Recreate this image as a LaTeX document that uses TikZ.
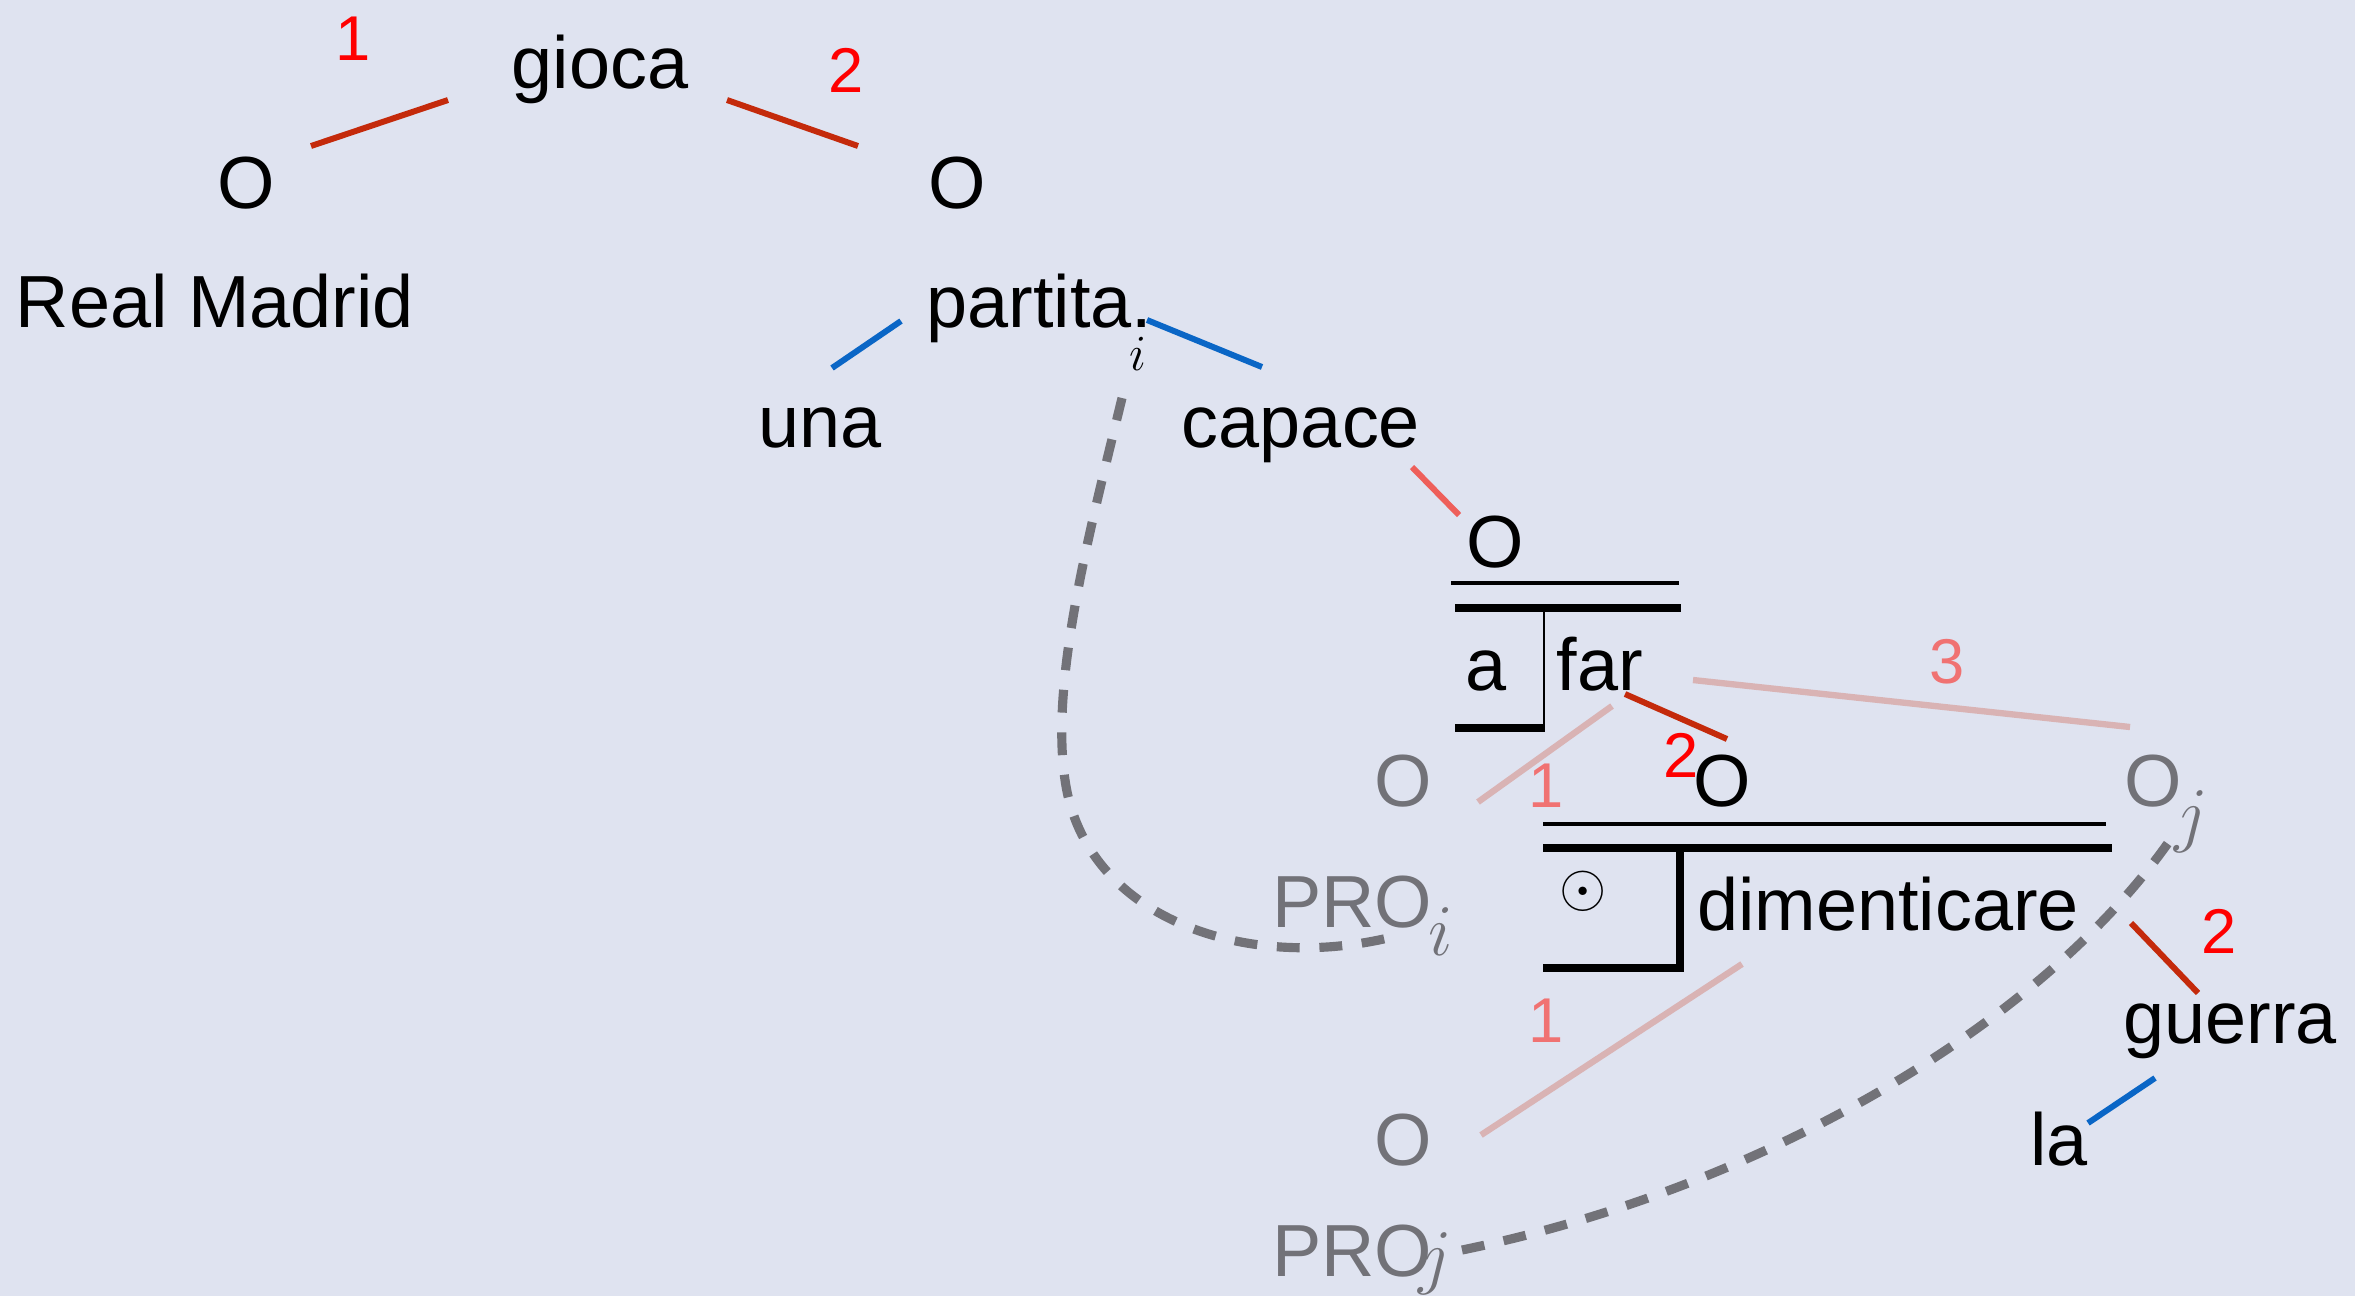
\documentclass[tikz,border=0pt]{standalone}
\usepackage{fontspec}
\setmainfont{Liberation Sans}
\definecolor{bg}{HTML}{DFE3F0}
\definecolor{dred}{HTML}{C42A0B}
\definecolor{blueL}{HTML}{0A66C6}
\definecolor{coral}{HTML}{EE5F5A}
\definecolor{pinkL}{HTML}{D9B3B4}
\definecolor{pinkN}{HTML}{F07272}
\definecolor{grayT}{HTML}{727278}
\definecolor{dashG}{HTML}{727278}
\begin{document}
\begin{tikzpicture}[x=0.01cm,y=-0.01cm,
  txt/.style={font=\fontsize{21pt}{25pt}\selectfont, inner sep=0, anchor=base},
  gtxt/.style={txt, text=grayT},
  num/.style={font=\fontsize{18pt}{22pt}\selectfont, inner sep=0, anchor=base, text=red},
  pnum/.style={num, text=pinkN},
  subsmall/.style={font=\fontsize{14.5pt}{17pt}\selectfont, inner sep=0, anchor=base},
  gsub/.style={txt, text=grayT},
  redl/.style={draw=dred, line width=1.7pt},
  bluel/.style={draw=blueL, line width=1.7pt},
  corall/.style={draw=coral, line width=1.7pt},
  pinkl/.style={draw=pinkL, line width=1.8pt},
  thinbar/.style={draw=black, line width=1.1pt},
  thickbar/.style={draw=black, line width=2.1pt},
  dashcurve/.style={draw=dashG, line width=2.6pt, dash pattern=on 6.5pt off 5.6pt}
]
\fill[bg] (0,0) rectangle (2355,1296);
\useasboundingbox (0,0) rectangle (2355,1296);

% texts
\node[txt] (gioca) at (600,88) {gioca};
\node[num] (n1) at (353,60) {1};
\node[num] (n2) at (846,92) {2};
\node[txt] (oL) at (246,208) {O};
\node[txt] (oR) at (957,208) {O};
\node[txt] (rm) at (215,327) {Real Madrid};
\node[txt,anchor=base west] (partita) at (926,327) {partita.};
\node[subsmall] (isubA) at (1138,370) {$i$};
\node[txt] (una) at (820,447) {una};
\node[txt] (capace) at (1301,447) {capace};
\node[txt] (oTop) at (1495,567) {O};
\node[txt] (a) at (1486,690) {a};
\node[txt] (far) at (1600,690) {far};
\node[pnum] (n3) at (1947,683) {3};
\node[gtxt] (oG1) at (1403,806) {O};
\node[pnum] (n1b) at (1546,807) {1};
\node[num] (n2b) at (1681,777) {2};
\node[txt] (oM) at (1722,806) {O};
\node[gtxt] (oJ) at (2153,806) {O};
\node[gsub] (jA) at (2191,838) {$j$};
\node[inner sep=0, font=\fontsize{18pt}{20pt}\selectfont] (odot) at (1583,891) {$\odot$};
\node[txt] (dim) at (1888,930) {dimenticare};
\node[gtxt] (proI) at (1352,927) {PRO};
\node[gsub] (iB) at (1441,955) {$i$};
\node[num] (n2c) at (2219,953) {2};
\node[txt] (guerra) at (2230,1043) {guerra};
\node[txt] (la) at (2059,1165) {la};
\node[pnum] (n1c) at (1546,1042) {1};
\node[gtxt] (oB) at (1403,1165) {O};
\node[gtxt] (proJ) at (1352,1276) {PRO};
\node[gsub] (jB) at (1435,1280) {$j$};

% connector end points
\coordinate (g1a) at (448,100); \coordinate (g1b) at (311,146);
\coordinate (g2a) at (727,100); \coordinate (g2b) at (858,146);
\coordinate (u1) at (901,321); \coordinate (u2) at (832,368);
\coordinate (c1) at (1147,320); \coordinate (c2) at (1262,367);
\coordinate (k1) at (1412,467); \coordinate (k2) at (1459,515);
\coordinate (f1) at (1693,680); \coordinate (f2) at (2130,727);
\coordinate (f3) at (1625,694); \coordinate (f4) at (1727,739);
\coordinate (f5) at (1612,706); \coordinate (f6) at (1478,802);
\coordinate (d1) at (1742,964); \coordinate (d2) at (1481,1135);
\coordinate (d3) at (2131,923); \coordinate (d4) at (2198,993);
\coordinate (l1) at (2155,1078); \coordinate (l2) at (2088,1123);

\draw[redl] (g1a) -- (g1b);
\draw[redl] (g2a) -- (g2b);
\draw[bluel] (u1) -- (u2);
\draw[bluel] (c1) -- (c2);
\draw[corall] (k1) -- (k2);
\draw[pinkl] (f1) -- (f2);
\draw[redl] (f3) -- (f4);
\draw[pinkl] (f5) -- (f6);
\draw[pinkl] (d1) -- (d2);
\draw[redl] (d3) -- (d4);
\draw[bluel] (l1) -- (l2);

% box 1
\draw[thinbar] (1451,583) -- (1679,583);
\draw[thickbar] (1455,608) -- (1681,608);
\draw[black, line width=0.8pt] (1544,608) -- (1544,728);
\draw[thickbar] (1455,728) -- (1545,728);
% box 2
\draw[thinbar] (1543,824) -- (2106,824);
\draw[thickbar] (1543,848) -- (2112,848);
\draw[thickbar] (1680,848) -- (1680,968);
\draw[thickbar] (1543,968) -- (1684,968);

% dashed curves
\coordinate (ci0) at (1122,398);
\coordinate (ci1) at (1065,780);
\coordinate (ci2) at (1400,935);
\draw[dashcurve] (ci0) .. controls (1090,530) and (1050,680) .. (ci1)
   .. controls (1085,920) and (1250,975) .. (ci2);
\coordinate (cj0) at (1462,1250);
\coordinate (cj1) at (2168,843);
\draw[dashcurve] (cj0) .. controls (1762,1188) and (2038,1026) .. (cj1);
\end{tikzpicture}
\end{document}
